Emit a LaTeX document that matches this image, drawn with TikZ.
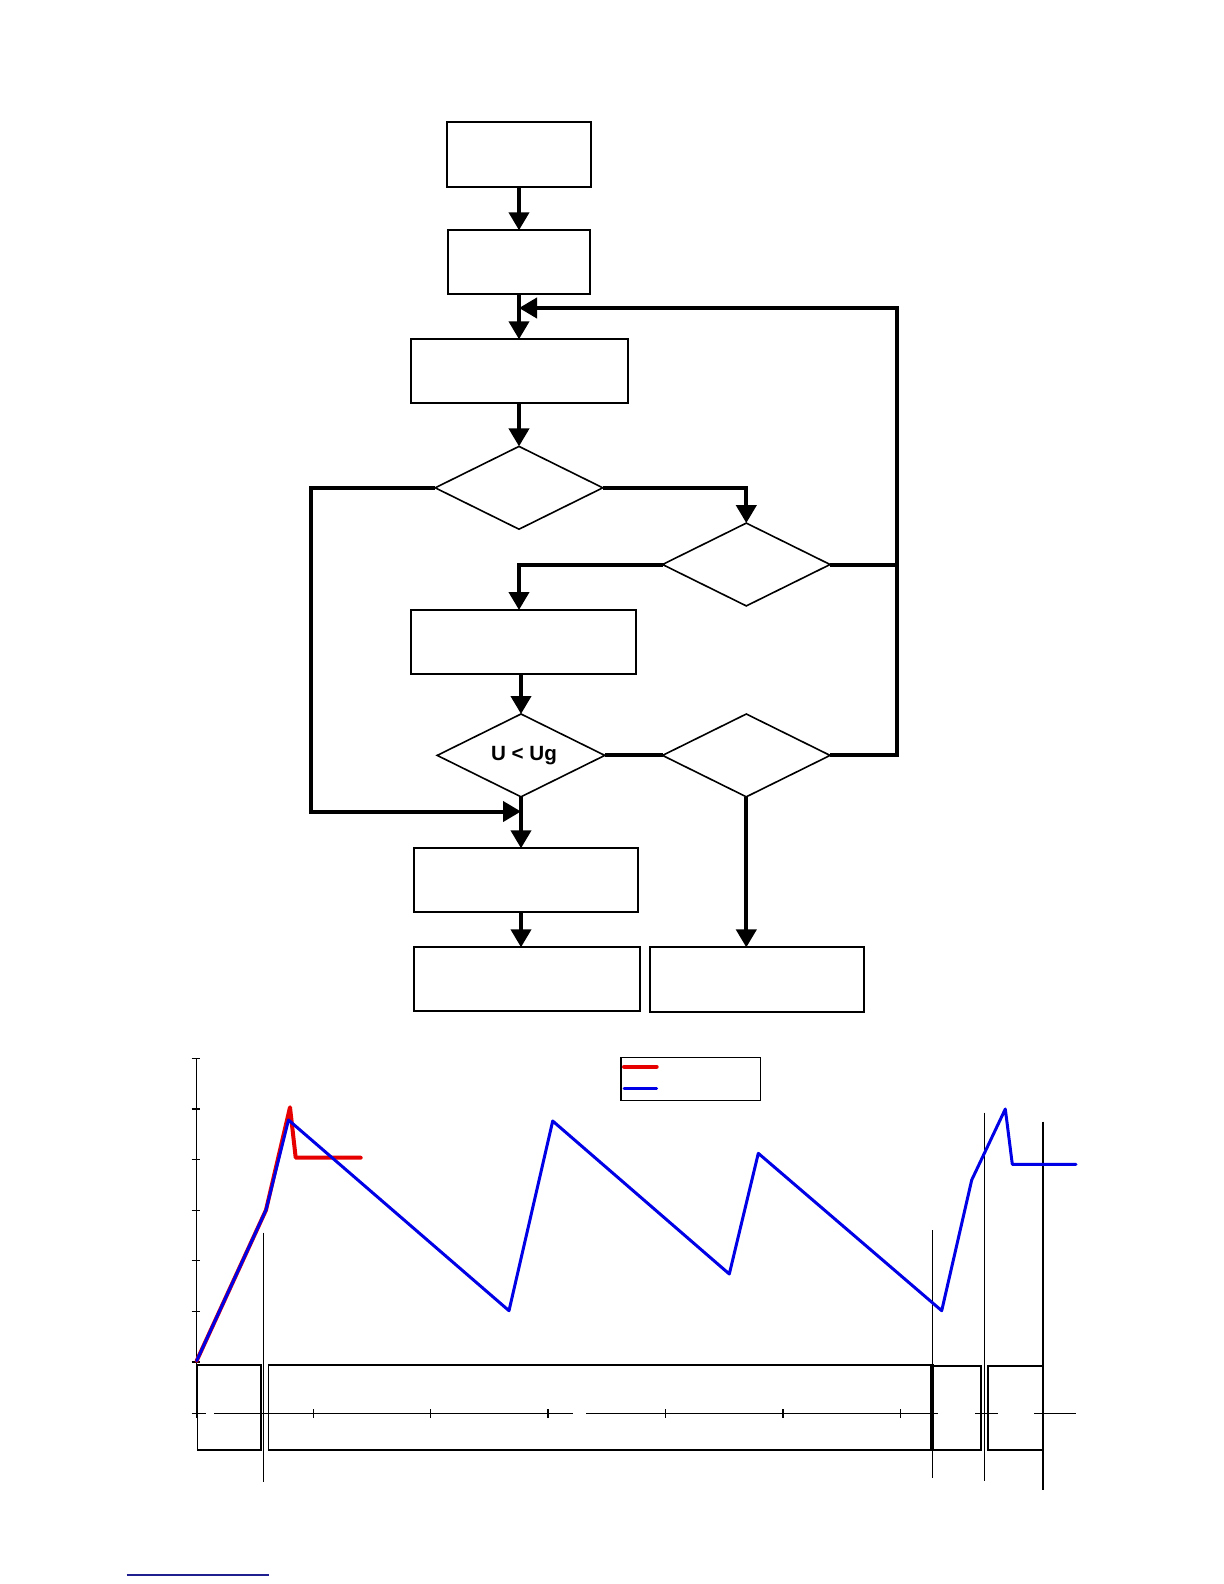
\documentclass[tikz,border=0pt]{standalone}
\usepackage{fontspec}
\setmainfont{Liberation Sans}
\usetikzlibrary{arrows.meta, shapes.geometric}
\definecolor{plotred}{HTML}{E60000}
\definecolor{plotblue}{HTML}{0000E6}
\definecolor{linknavy}{HTML}{1F1F8F}

\begin{document}
\begin{tikzpicture}[
    x=0.5pt, y=-0.5pt,
    >={Triangle[length=9pt, width=10pt]},
    every node/.style={text=black},
    box/.style={draw, line width=1pt, inner sep=0pt, outer sep=0pt},
    decision/.style={diamond, aspect=2, draw, line width=0.8pt, inner sep=0pt, outer sep=0pt,
      minimum width=83.8pt, minimum height=41.4pt,
      font=\bfseries\fontsize{10.3}{12}\selectfont},
    flow/.style={->, line width=2pt},
    loopline/.style={line width=2pt},
    axisline/.style={line width=0.6pt},
    phase/.style={line width=0.8pt},
    marker/.style={line width=0.6pt},
    redcurve/.style={plotred, line width=2pt, line join=round, line cap=round},
    bluecurve/.style={plotblue, line width=1.5pt, line join=round, line cap=round},
  ]

  % Page
  \useasboundingbox (0,0) rectangle (1224,1584);

  % === Flowchart boxes ===
  \node[box, minimum width=71.7pt, minimum height=32.3pt] (start) at (519,154.5) {};
  \node[box, minimum width=71.2pt, minimum height=31.8pt] (setup) at (519,262.1) {};
  \node[box, minimum width=108.6pt, minimum height=31.9pt] (measure) at (519.6,371.2) {};
  \node[box, minimum width=112.6pt, minimum height=31.8pt] (adjust) at (523.6,641.8) {};
  \node[box, minimum width=112.2pt, minimum height=31.9pt] (finish) at (526.2,880.2) {};
  \node[box, minimum width=112.7pt, minimum height=31.9pt] (stop) at (526.8,979.2) {};
  \node[box, minimum width=107pt, minimum height=32.3pt] (alarm) at (756.5,979.7) {};

  % === Decisions ===
  \node[decision] (testA) at (519,487.8) {};
  \node[decision] (testB) at (746.3,564.5) {};
  \node[decision] (testU) at (521,755.4) {\hspace{3pt}U < Ug};
  \node[decision] (testC) at (746.3,755.4) {};

  % Loop corners
  \coordinate (loopR) at (896.8,308);
  \coordinate (joinR) at (519,308);
  \coordinate (loopL) at (311,811.5);
  \coordinate (joinL) at (521,811.5);

  % === Connectors ===
  \draw[flow] (start) -- (setup);
  \draw[flow] (setup) -- (measure.north -| setup);
  \draw[flow] (measure.south -| testA) -- (testA.north);
  \draw[flow] (testA.east) -| (testB.north);
  \draw[flow] (testB.west) -| ([xshift=-2.3pt]adjust.north);
  \draw[flow] (testU.north |- adjust.south) -- (testU.north);
  \draw[loopline] (testU.east) -- (testC.west);
  \draw[loopline] (testB.east) -- (testB.east -| loopR);
  \draw[flow] (testC.east) -| (loopR) -- (joinR);
  \draw[flow] (testA.west) -| (loopL) -- (joinL);
  \draw[flow] (testU.south) -- (testU.south |- finish.north);
  \draw[flow] (testU.south |- finish.south) -- (testU.south |- stop.north);
  \draw[flow] (testC.south) -- (testC.south |- alarm.north);

  % === Chart axes ===
  \draw[axisline] (196.7,1058) -- (196.7,1413.3);
  \foreach \ty in {0,...,6}
    \draw[axisline] (191.7,1058.3+50.6*\ty) -- (200,1058.3+50.6*\ty);
  \foreach \xa/\xb in {191.7/206, 214/572.7, 586/938.3, 975/997.7, 1034/1076}
    \draw[axisline] (\xa,1413.3) -- (\xb,1413.3);
  \foreach \tx in {196.7, 313.3, 430.7, 548, 665.5, 783, 900.4}
    \draw[axisline] (\tx,1409) -- (\tx,1417.5);

  % Phase boxes
  \draw[phase] (197.3,1365) rectangle (261,1450);
  \draw[phase] (268.3,1365) rectangle (933,1450);
  \draw[phase] (933,1366) rectangle (981,1450);
  \draw[phase] (987.7,1366) rectangle (1042.7,1450);
  \draw[line width=2pt] (931.5,1366) -- (931.5,1450);

  % Vertical markers
  \draw[marker] (263.3,1232.7) -- (263.3,1481.7);
  \draw[marker] (932.7,1230) -- (932.7,1478.3);
  \draw[marker, line width=0.8pt] (984.3,1112.7) -- (984.3,1481);
  \draw[marker, line width=1pt] (1042.7,1121.7) -- (1042.7,1490);

  % === Curves ===
  \draw[redcurve] (196.7,1360.7) -- (266,1210) -- (290,1107.3)
    -- (295.7,1157.7) -- (360.7,1157.7);
  \draw[bluecurve] (196.7,1360.7) -- (266,1210) -- (288.5,1120)
    -- (509,1310.7) -- (552.7,1121) -- (729.3,1274) -- (758.3,1153.3)
    -- (941.7,1310.7) -- (971.7,1180) -- (1005.3,1109) -- (1012.3,1164.3)
    -- (1076,1164.3);

  % Legend
  \draw[line width=0.6pt] (621,1057.3) rectangle (760.3,1100.3);
  \draw[redcurve] (624,1066.7) -- (656.7,1066.7);
  \draw[bluecurve] (624,1088.3) -- (656.7,1088.3);

  % Underline
  \draw[linknavy, line width=0.7pt] (126.7,1575) -- (269,1575);

\end{tikzpicture}
\end{document}
